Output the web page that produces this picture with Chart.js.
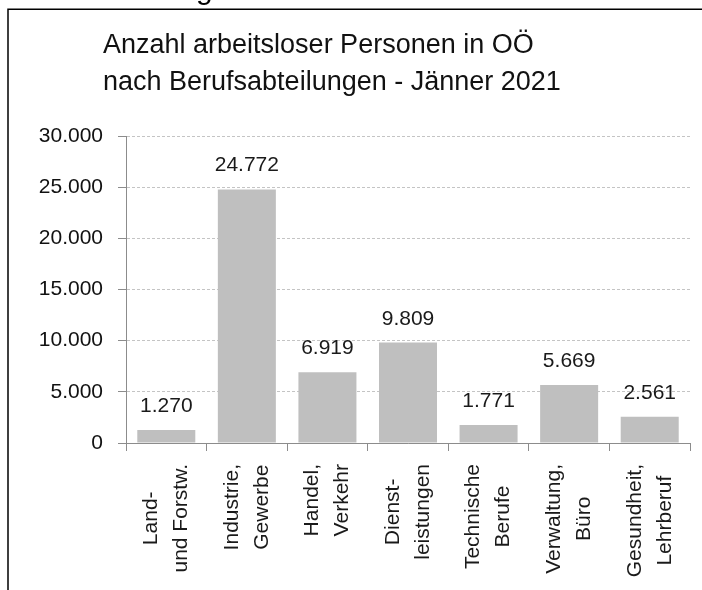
<!DOCTYPE html>
<html>
<head>
<meta charset="utf-8">
<script src="https://cdn.jsdelivr.net/npm/chart.js@4"></script>
<style>
  html, body { margin: 0; padding: 0; background: #fff; }
  #wrap { position: relative; width: 702px; height: 590px; }
</style>
</head>
<body>
<div id="wrap"><canvas id="chart" width="702" height="590"></canvas></div>
<script>
const categories = [
    ['Land-', 'und Forstw.'],
    ['Industrie,', 'Gewerbe'],
    ['Handel,', 'Verkehr'],
    ['Dienst-', 'leistungen'],
    ['Technische', 'Berufe'],
    ['Verwaltung,', 'Büro'],
    ['Gesundheit,', 'Lehrberuf']
];
const arbeitslose = [1270, 24772, 6919, 9809, 1771, 5669, 2561];
const titleLines = ['Anzahl arbeitsloser Personen in OÖ', 'nach Berufsabteilungen - Jänner 2021'];
const yMax = 30000;
const yStep = 5000;

const FONT = '"Liberation Sans", Arial, sans-serif';
const fmt = v => v.toLocaleString('de-DE');

// Rahmen, Titel, Werte und gedrehte Achsenbeschriftungen
const extras = {
    id: 'extras',
    afterDraw(chart) {
        const ctx = chart.ctx;
        ctx.save();

        // Rahmen (nur links und oben sichtbar)
        ctx.strokeStyle = '#000';
        ctx.lineWidth = 1.5;
        ctx.beginPath();
        ctx.moveTo(8, 590);
        ctx.lineTo(8, 9.25);
        ctx.lineTo(702, 9.25);
        ctx.stroke();

        // abgeschnittener Rest vom Text darüber
        ctx.fillStyle = '#000';
        ctx.font = '30px ' + FONT;
        ctx.textBaseline = 'alphabetic';
        ctx.fillText('g', 196, -1);

        // Titel
        ctx.fillStyle = '#111';
        ctx.font = '27px ' + FONT;
        ctx.textAlign = 'left';
        ctx.fillText(titleLines[0], 103, 53);
        ctx.fillText(titleLines[1], 103, 90);

        // Datenbeschriftung
        ctx.font = '21px ' + FONT;
        ctx.textAlign = 'center';
        ctx.fillStyle = '#1a1a1a';
        chart.getDatasetMeta(0).data.forEach((bar, i) => {
            ctx.fillText(fmt(arbeitslose[i]), bar.x, bar.y - 18);
        });

        // Kategorien, 90° gedreht, Zeilen zentriert
        const xs = chart.scales.x;
        const yTop = chart.chartArea.bottom + 21;
        const lh = 30;
        categories.forEach((lines, i) => {
            const x = xs.getPixelForValue(i);
            const maxW = Math.max(...lines.map(l => ctx.measureText(l).width));
            ctx.save();
            ctx.translate(x, yTop);
            ctx.rotate(-Math.PI / 2);
            ctx.textAlign = 'center';
            ctx.textBaseline = 'middle';
            lines.forEach((l, j) => {
                ctx.fillText(l, -maxW / 2, (j - (lines.length - 1) / 2) * lh);
            });
            ctx.restore();
        });

        ctx.restore();
    }
};

new Chart(document.getElementById('chart'), {
    type: 'bar',
    data: {
        labels: categories.map(c => c.join(' ')),
        datasets: [{
            data: arbeitslose,
            backgroundColor: '#bfbfbf',
            borderWidth: 0,
            categoryPercentage: 1,
            barPercentage: 0.72
        }]
    },
    options: {
        responsive: false,
        animation: false,
        devicePixelRatio: 1,
        layout: { padding: { top: 136, right: 12, left: 0, bottom: 0 } },
        plugins: {
            legend: { display: false },
            title: { display: false },
            tooltip: { enabled: false }
        },
        scales: {
            x: {
                grid: {
                    display: true,
                    drawOnChartArea: false,
                    drawTicks: true,
                    tickLength: 8,
                    color: '#8c8c8c'
                },
                border: { color: '#8c8c8c', width: 1 },
                ticks: { display: false },
                afterFit: s => { s.height = 147; }
            },
            y: {
                min: 0,
                max: yMax,
                grid: {
                    color: '#c4c4c4',
                    lineWidth: 1,
                    tickLength: 8,
                    tickColor: '#8c8c8c',
                    tickBorderDash: []
                },
                border: { color: '#8c8c8c', width: 1, dash: [3, 2] },
                ticks: {
                    stepSize: yStep,
                    padding: 15,
                    color: '#111',
                    font: { family: FONT, size: 21 },
                    callback: v => fmt(v)
                },
                afterFit: s => { s.width = 126; }
            }
        }
    },
    plugins: [extras]
});
</script>
</body>
</html>
